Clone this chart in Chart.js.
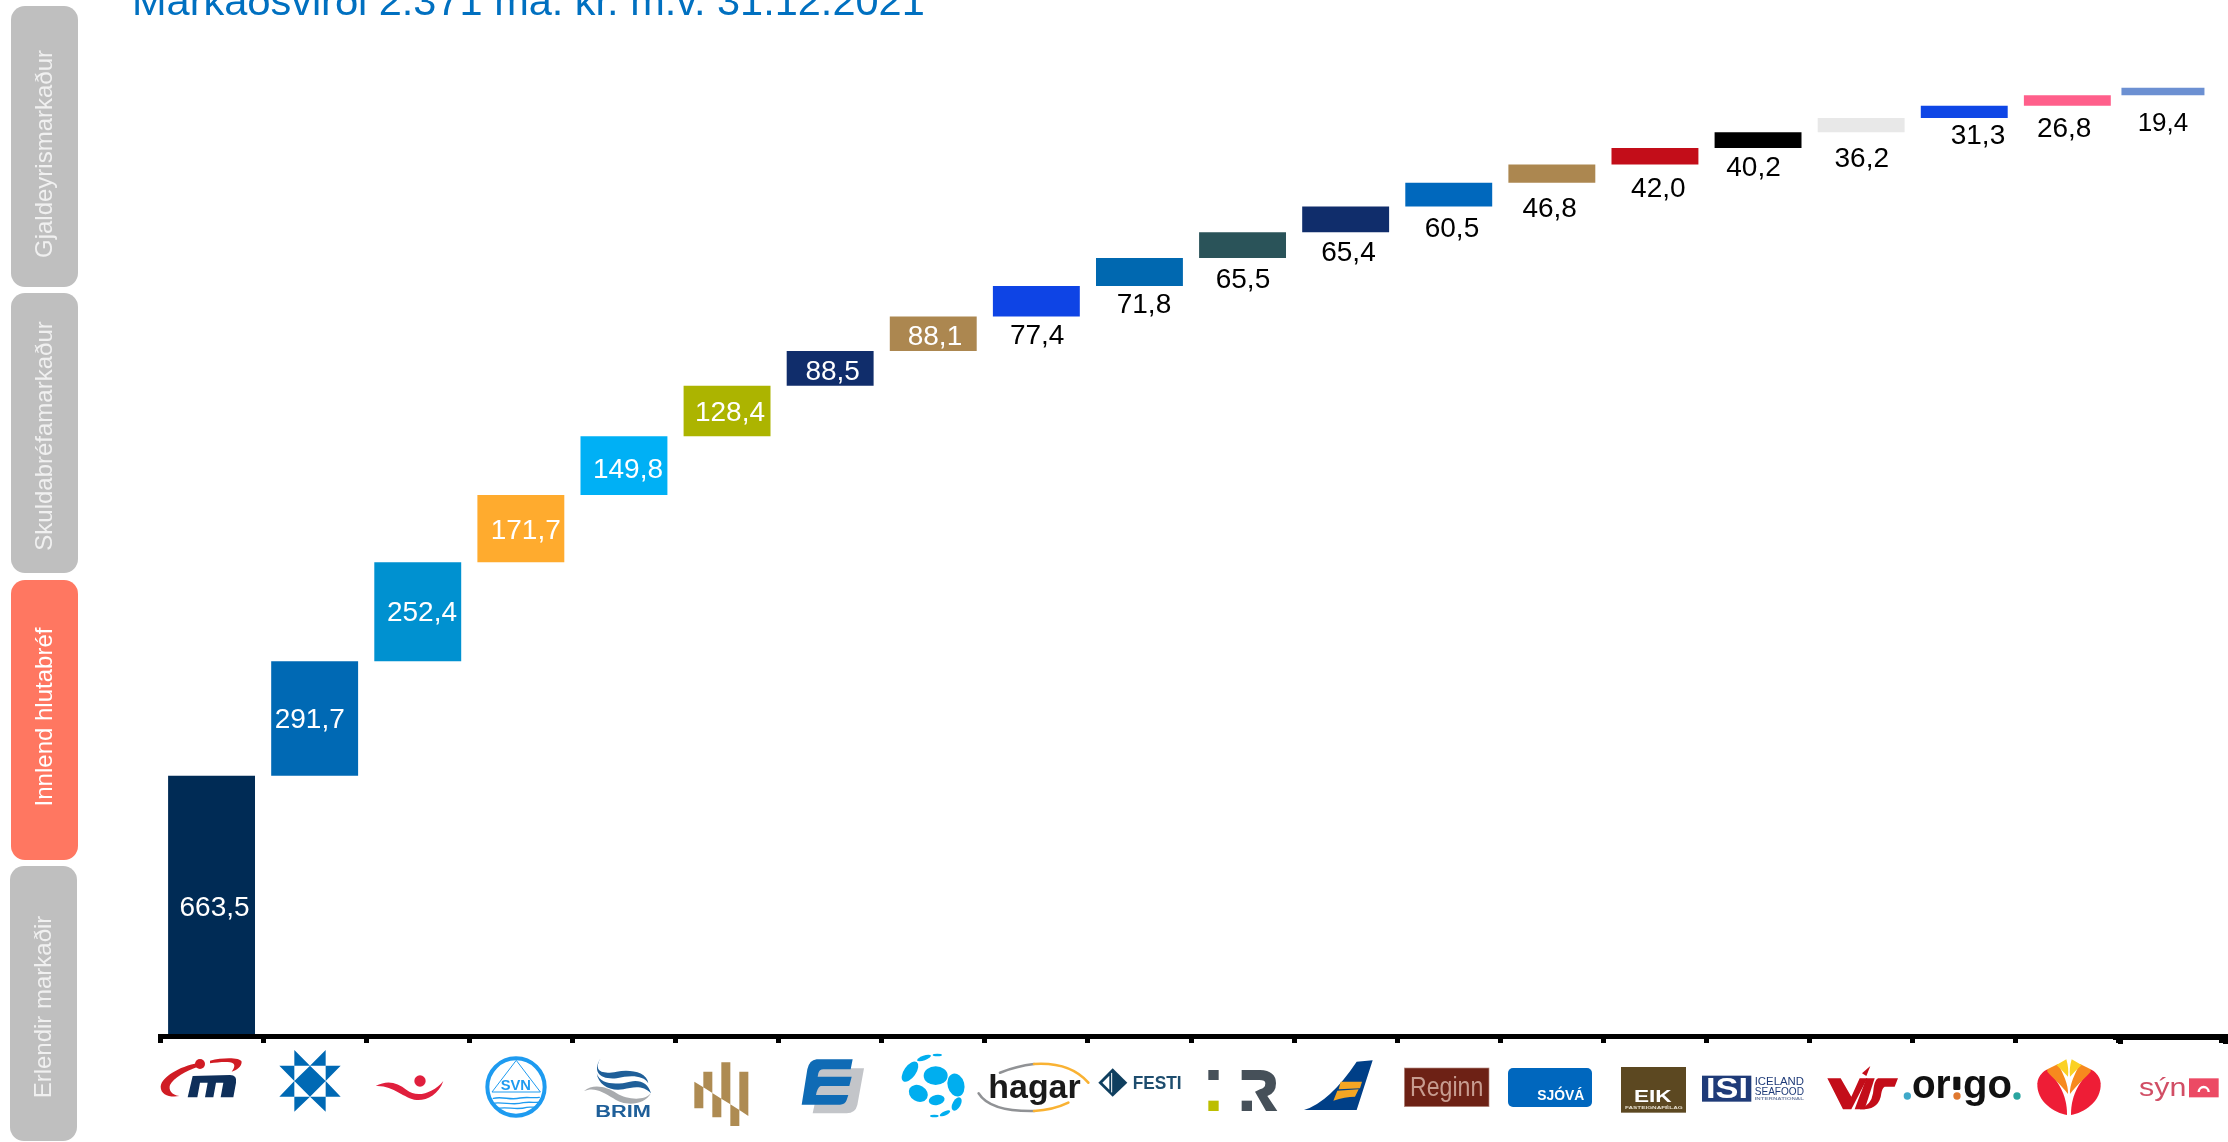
<!DOCTYPE html>
<html lang="is">
<head>
<meta charset="utf-8">
<title>Markaðsvirði</title>
<style>html,body{margin:0;padding:0;background:#fff;overflow:hidden}canvas{display:block}</style>
<script src="https://cdn.jsdelivr.net/npm/chart.js@4"></script>
</head>
<body>
<canvas id="c" width="2228" height="1142"></canvas>
<script>
const titleText = 'Markaðsvirði 2.371 ma. kr. m.v. 31.12.2021';
const categories = ['Marel','Arion banki','Íslandsbanki','Síldarvinnslan','Brim','Kvika','Eimskip','Síminn','Hagar','Festi','Reitir','Icelandair','Reginn','Sjóvá','Eik','Iceland Seafood','VÍS','Origo','Skeljungur','Sýn'];
const values = [663.5,291.7,252.4,171.7,149.8,128.4,88.5,88.1,77.4,71.8,65.5,65.4,60.5,46.8,42.0,40.2,36.2,31.3,26.8,19.4];
const barColors = ['#002B55','#0069B4','#0091D0','#FFAB2E','#00B0F5','#ACB400','#102D6B','#AC8750','#0E44E5','#0068B0','#2A5359','#102D6B','#0068BD','#AC8750','#C30D19','#000000','#E8E8E8','#0E46E6','#FF5F8B','#6C90D2'];
const labelDx = [3,-4.9,4.2,4.9,4,2.9,2.5,1.7,.8,4.5,.4,2.8,3.2,-2.2,3.4,-4.5,.6,13.7,-3.2,0];
const labelDy = [.6,-.9,-.8,0,2,-.2,1.1,1.2,17.5,16.6,20.5,19.2,20.4,24.1,22.5,17.7,24.4,15.6,21.2,26];
const whiteLabelCount = 8;
const sideTabs = [
  {text:'Gjaldeyrismarkaður', x:11, y:6, w:67, h:281, mid:154, fill:'#BFBFBF', ink:'#F0F0F0'},
  {text:'Skuldabréfamarkaður', x:11, y:293, w:67, h:280, mid:436, fill:'#BFBFBF', ink:'#F0F0F0'},
  {text:'Innlend hlutabréf', x:11, y:580, w:67, h:280, mid:717, fill:'#FF7761', ink:'#FFFFFF'},
  {text:'Erlendir markaðir', x:10, y:866, w:67, h:275, mid:1007, fill:'#BFBFBF', ink:'#F0F0F0'}
];
const FONT = '"Liberation Sans", Arial, sans-serif';

// waterfall: each bar starts where the previous one ended
let running = 0;
const spans = values.map(v => { const s = [running, running + v]; running += v; return s; });

function fit(ctx, str, x0, x1, base, size, weight, color) {
  ctx.save();
  ctx.font = `${weight} ${size}px ${FONT}`;
  const w = ctx.measureText(str).width;
  ctx.translate(x0, base);
  ctx.scale((x1 - x0) / w, 1);
  ctx.fillStyle = color;
  ctx.textAlign = 'left';
  ctx.textBaseline = 'alphabetic';
  ctx.fillText(str, 0, 0);
  ctx.restore();
}
const P = (ctx, d, c) => { ctx.fillStyle = c; ctx.fill(new Path2D(d)); };
const S = (ctx, d, c, w) => { ctx.strokeStyle = c; ctx.lineWidth = w; ctx.lineCap = 'round'; ctx.stroke(new Path2D(d)); };
const E = (ctx, x, y, rx, ry, deg, c) => { ctx.fillStyle = c; ctx.beginPath(); ctx.ellipse(x, y, rx, ry, deg * Math.PI / 180, 0, 7); ctx.fill(); };

function logosA(ctx) {
  const red = '#D01C24';
  P(ctx, 'M140 100C90 110 35 140 32 170C32 195 60 203 88 198C65 195 55 180 60 165C70 145 110 122 140 112Z', red);
  E(ctx, 150, 102, 15, 15, 0, red);
  P(ctx, 'M180 92C220 82 270 82 275 95C275 110 260 120 245 125C255 112 258 100 240 97C220 95 200 98 180 100Z', red);
  P(ctx, 'M128 138L240 135Q262 135 258 158L250 202L212 202L220 158L198 158L190 202L165 202L173 158L150 158L142 202L113 202Z', '#0E2F5A');
  P(ctx, 'M480 107L527 153L480 200L433 153ZM433 60L480 107L433 107ZM527 60L527 107L480 107ZM527 107L572 107L527 153ZM388 107L433 107L433 153ZM388 200L433 153L433 200ZM527 153L572 200L527 200ZM433 200L480 200L433 245ZM527 200L527 245L480 200Z', '#0069B4');
  E(ctx, 810, 153, 17, 17, 0, '#E01F3D');
  P(ctx, 'M677 168C710 150 740 155 770 180C800 205 850 190 880 153C865 195 830 212 800 210C760 205 730 165 677 168Z', '#E01F3D');
  const b = '#1E9BF0';
  ctx.strokeStyle = b; ctx.lineWidth = 12; ctx.beginPath(); ctx.arc(1098, 171, 86, 0, 7); ctx.stroke();
  S(ctx, 'M1098 92L1026 186L1170 186Z', b, 3);
  fit(ctx, 'SVN', 1052, 1143, 181, 46, 'bold', b);
  S(ctx, 'M1030 205C1060 198 1080 212 1110 204C1130 200 1150 205 1168 202M1025 220C1060 214 1090 228 1120 218C1140 214 1160 220 1172 216M1040 236C1070 228 1100 242 1130 232C1140 230 1150 232 1158 232', b, 4);
  const n = '#1F5F99';
  P(ctx, 'M1352 85C1330 120 1350 135 1400 125C1440 118 1490 125 1495 160C1480 135 1440 135 1400 145C1350 150 1325 125 1352 85Z', n);
  P(ctx, 'M1340 130C1350 165 1400 165 1440 155C1470 148 1495 160 1503 190C1480 165 1450 170 1420 178C1380 185 1345 165 1340 130Z', n);
  P(ctx, 'M1302 183C1330 160 1370 170 1400 190C1430 208 1480 215 1503 190C1480 230 1420 228 1390 205C1360 185 1330 170 1302 183Z', '#A9ABAE');
  fit(ctx, 'BRIM', 1336, 1503, 260, 49, 'bold', n);
}
function logosB(ctx) {
  P(ctx, 'M73 155L100 172L100 235L73 235ZM100 125L127 125L127 189L100 172ZM127 189L154 206L154 262L127 262ZM154 97L181 97L181 223L154 206ZM181 223L208 240L208 288L181 288ZM208 125L235 125L235 258L208 240Z', '#AE8B52');
  P(ctx, 'M440 115L582 115L562 225Q556 250 530 250L428 250L434 222Z', '#C3C5C9');
  P(ctx, 'M440 88L548 88L542 118L460 118Q448 118 445 130L443 140L545 140L538 168L452 168Q442 172 438 195L535 195L530 210Q525 224 510 224L395 224L412 118Q418 90 440 88Z', '#0F6BB5');
  const c = '#00AEEF';
  [[797,137,36,28,0],[745,190,30,24,30],[800,210,24,15,-10],[858,165,25,35,-15],[720,125,18,35,35],[860,222,12,22,30],[825,250,17,6,-25],[793,258,13,4,0],[762,84,22,7,-20],[802,75,14,4,0]]
    .forEach(e => E(ctx, e[0], e[1], e[2], e[3], e[4], c));
  S(ctx, 'M990 128Q1040 108 1092 102', '#909295', 8);
  S(ctx, 'M1092 102Q1200 95 1255 158', '#F9B233', 8);
  S(ctx, 'M926 190Q960 245 1092 243', '#909295', 8);
  S(ctx, 'M1092 243Q1150 240 1195 218', '#F9B233', 8);
  fit(ctx, 'hagar', 955, 1232, 205, 100, 'bold', '#1A1A1A');
  P(ctx, 'M1328 115L1372 158L1328 200L1285 158Z', '#0F3F5F');
  P(ctx, 'M1297 158L1318 137L1318 179Z', '#fff');
  S(ctx, 'M1325 130L1325 186', '#fff', 3);
  fit(ctx, 'FESTI', 1388, 1535, 178, 55, 'bold', '#1E4D6E');
}
function logosC(ctx) {
  const g = '#465059';
  ctx.fillStyle = g; ctx.fillRect(55, 120, 31, 30); ctx.fillRect(155, 212, 31, 31);
  ctx.fillStyle = '#BCBE00'; ctx.fillRect(55, 212, 31, 31);
  P(ctx, 'M155 120L210 120Q258 122 258 160Q258 190 232 198L262 243L228 243L195 185L210 178Q226 175 226 160Q226 150 208 150L155 150Z', g);
  P(ctx, 'M500 95L548 91L500 240L342 240Q420 215 500 95Z', '#003F87');
  P(ctx, 'M452 155L516 155L510 175L446 178ZM442 182L506 178L495 200Q465 200 430 212Z', '#F5A623');
  ctx.fillStyle = '#6D2115'; ctx.fillRect(643, 114, 254, 116);
  ctx.strokeStyle = '#B58A80'; ctx.lineWidth = 2; ctx.strokeRect(643, 114, 254, 116);
  fit(ctx, 'Reginn', 660, 880, 198, 84, 'normal', '#C79C90');
  ctx.fillStyle = '#0067BE'; ctx.beginPath(); ctx.roundRect(954, 114, 252, 117, 15); ctx.fill();
  fit(ctx, 'SJÓVÁ', 1042, 1183, 210, 42, 'bold', '#fff');
  ctx.fillStyle = '#5C4821'; ctx.fillRect(1293, 111, 195, 137);
  fit(ctx, 'EIK', 1332, 1445, 215, 50, 'bold', '#fff');
  fit(ctx, 'FASTEIGNAFÉLAG', 1305, 1478, 236, 10, 'bold', '#E6DFCF');
}
function logosD(ctx) {
  ctx.fillStyle = '#1F3B78'; ctx.fillRect(-18, 137, 148, 78);
  fit(ctx, 'ISI', -6, 120, 203, 88, 'bold', '#fff');
  fit(ctx, 'ICELAND', 140, 288, 164, 31, 'normal', '#1F3B78');
  fit(ctx, 'SEAFOOD', 140, 288, 195, 31, 'normal', '#1F3B78');
  fit(ctx, 'INTERNATIONAL', 140, 288, 211, 11, 'bold', '#7A88A8');
  const r = '#C30D19';
  P(ctx, 'M358 145L398 145L430 200L455 145L478 145L430 238L405 238Z', r);
  P(ctx, 'M462 130L487 108L475 138Z', r);
  P(ctx, 'M475 145L500 145L470 238L440 238Z', r);
  P(ctx, 'M510 145L570 145L560 170L530 170Q522 175 520 190Q515 235 470 238L455 238Q490 225 495 190Q498 150 510 145Z', r);
  E(ctx, 598, 198, 11, 11, 0, '#3FA9C9');
  fit(ctx, 'or', 612, 728, 205, 120, 'bold', '#111');
  ctx.fillStyle = '#111'; ctx.beginPath(); ctx.roundRect(736, 140, 21, 40, 4); ctx.fill();
  E(ctx, 747, 198, 11, 11, 0, '#E0782F');
  fit(ctx, 'go', 765, 912, 205, 120, 'bold', '#111');
  E(ctx, 927, 198, 11, 11, 0, '#2AA5A0');
  [1, -1].forEach(m => {
    ctx.save();
    if (m < 0) { ctx.translate(2166, 0); ctx.scale(-1, 1); }
    P(ctx, 'M1077 255C1040 250 985 215 988 160C990 135 1010 122 1018 118C1045 150 1078 190 1077 255Z', '#EE1D36');
    P(ctx, 'M1018 118L1050 102C1065 130 1082 165 1080 192C1060 165 1035 145 1018 125Z', '#F7891E');
    P(ctx, 'M1045 105L1075 88Q1083 115 1080 140Q1062 120 1045 105Z', '#FBD123');
    ctx.restore();
  });
  fit(ctx, 'sýn', 1293, 1435, 198, 76, 'normal', '#D14E65');
  ctx.fillStyle = '#EC4A64'; ctx.fillRect(1443, 145, 89, 57);
  ctx.strokeStyle = '#fff'; ctx.lineWidth = 7; ctx.lineCap = 'butt';
  ctx.beginPath(); ctx.arc(1487, 186, 15, Math.PI, 0); ctx.stroke();
}

const decorations = {
  id: 'decorations',
  afterDatasetsUpdate(chart) {
    // the last bar sits a little left of its slot and is slightly narrower
    const last = chart.getDatasetMeta(0).data[values.length - 1];
    last.x -= 7.5; last.width = 83;
  },
  afterDraw(chart) {
    const ctx = chart.ctx, meta = chart.getDatasetMeta(0), xs = chart.scales.x;
    // value labels
    ctx.save();
    ctx.textAlign = 'center'; ctx.textBaseline = 'alphabetic';
    meta.data.forEach((bar, i) => {
      const white = i < whiteLabelCount;
      const size = i === values.length - 1 ? 26 : 28;
      const y0 = white ? (bar.y + bar.base) / 2 : bar.base;
      ctx.font = `${size}px ${FONT}`;
      ctx.fillStyle = white ? '#FFFFFF' : '#000000';
      ctx.fillText(values[i].toFixed(1).replace('.', ','), bar.x + labelDx[i], y0 + labelDy[i] + size * 0.358);
    });
    ctx.restore();
    // heavier last axis segment
    ctx.save();
    ctx.fillStyle = '#000';
    ctx.fillRect(xs.right - 109, xs.top - 2, 115, 6);
    ctx.fillRect(xs.right - 104, xs.top, 5, 8);
    ctx.fillRect(xs.right + 1, xs.top, 5, 8);
    ctx.restore();
    // title
    ctx.save();
    ctx.font = `41.5px ${FONT}`; ctx.fillStyle = '#0070C0';
    ctx.textAlign = 'left'; ctx.textBaseline = 'alphabetic';
    ctx.fillText(titleText, 132, 15);
    ctx.restore();
    // side tabs
    sideTabs.forEach(t => {
      ctx.save();
      ctx.fillStyle = t.fill;
      ctx.beginPath(); ctx.roundRect(t.x, t.y, t.w, t.h, 14); ctx.fill();
      ctx.translate(t.x + 40.5, t.mid);
      ctx.rotate(-Math.PI / 2);
      ctx.font = `24px ${FONT}`; ctx.fillStyle = t.ink;
      ctx.textAlign = 'center'; ctx.textBaseline = 'alphabetic';
      ctx.fillText(t.text, 0, 0);
      ctx.restore();
    });
    // logo row, used in place of axis labels
    [[150, logosA], [670, logosB], [1190, logosC], [1708, logosD]].forEach(([ox, draw]) => {
      ctx.save();
      ctx.translate(ox, 1030);
      ctx.scale(1 / 3, 1 / 3);
      draw(ctx);
      ctx.restore();
    });
  }
};

new Chart(document.getElementById('c'), {
  type: 'bar',
  data: {
    labels: categories,
    datasets: [{
      data: spans,
      backgroundColor: barColors,
      borderWidth: 0,
      categoryPercentage: 1,
      barPercentage: 0.843
    }]
  },
  plugins: [decorations],
  options: {
    responsive: false,
    animation: false,
    layout: { padding: { left: 160, right: 6, top: 55.25, bottom: 0 } },
    plugins: { legend: { display: false }, title: { display: false }, tooltip: { enabled: false } },
    scales: {
      y: { display: false, min: 0, max: 2500 },
      x: {
        ticks: { display: false },
        grid: { drawOnChartArea: false, drawTicks: true, tickLength: 7, tickWidth: 5, tickColor: '#000' },
        border: { display: true, color: '#000', width: 5, z: 1 },
        afterFit(s) { s.height = 106; }
      }
    }
  }
});
</script>
</body>
</html>
